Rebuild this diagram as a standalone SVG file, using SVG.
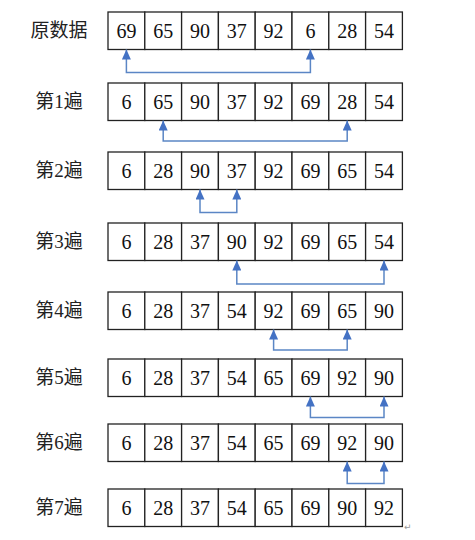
<svg xmlns="http://www.w3.org/2000/svg" width="475" height="540" viewBox="0 0 475 540">
<style>
.c{fill:#fff;stroke:#222;stroke-width:1.3}
.n{font-family:"Liberation Serif","Times New Roman",serif;font-size:20px;fill:#111;text-anchor:middle}
.l{font-family:"Liberation Serif","Noto Sans CJK SC",serif;font-size:19px;fill:#222;text-anchor:middle}
.a{fill:none;stroke:#5B86C5;stroke-width:1.5;marker-start:url(#ah);marker-end:url(#ah)}
</style>
<defs>
<marker id="ah" viewBox="0 0 10 9" refX="10" refY="4.5" markerWidth="10" markerHeight="9" markerUnits="userSpaceOnUse" orient="auto-start-reverse"><path d="M0,0 L10,4.5 L0,9 z" fill="#4472C4"/></marker>
</defs>
<rect width="475" height="540" fill="#fff"/>
<g id="row0">
<text class="l" x="59" y="37">原数据</text>
<rect class="c" x="108" y="12" width="36.8" height="37.5"/><rect class="c" x="144.8" y="12" width="36.8" height="37.5"/><rect class="c" x="181.6" y="12" width="36.8" height="37.5"/><rect class="c" x="218.4" y="12" width="36.8" height="37.5"/><rect class="c" x="255.2" y="12" width="36.8" height="37.5"/><rect class="c" x="292" y="12" width="36.8" height="37.5"/><rect class="c" x="328.8" y="12" width="36.8" height="37.5"/><rect class="c" x="365.6" y="12" width="36.8" height="37.5"/>
<text class="n" y="38"><tspan x="126.4">69</tspan><tspan x="163.2">65</tspan><tspan x="200">90</tspan><tspan x="236.8">37</tspan><tspan x="273.6">92</tspan><tspan x="310.4">6</tspan><tspan x="347.2">28</tspan><tspan x="384">54</tspan></text>
</g>
<g id="row1">
<text class="l" x="59" y="108">第1遍</text>
<rect class="c" x="108" y="83" width="36.8" height="37.5"/><rect class="c" x="144.8" y="83" width="36.8" height="37.5"/><rect class="c" x="181.6" y="83" width="36.8" height="37.5"/><rect class="c" x="218.4" y="83" width="36.8" height="37.5"/><rect class="c" x="255.2" y="83" width="36.8" height="37.5"/><rect class="c" x="292" y="83" width="36.8" height="37.5"/><rect class="c" x="328.8" y="83" width="36.8" height="37.5"/><rect class="c" x="365.6" y="83" width="36.8" height="37.5"/>
<text class="n" y="109"><tspan x="126.4">6</tspan><tspan x="163.2">65</tspan><tspan x="200">90</tspan><tspan x="236.8">37</tspan><tspan x="273.6">92</tspan><tspan x="310.4">69</tspan><tspan x="347.2">28</tspan><tspan x="384">54</tspan></text>
</g>
<g id="row2">
<text class="l" x="59" y="177">第2遍</text>
<rect class="c" x="108" y="152" width="36.8" height="37.5"/><rect class="c" x="144.8" y="152" width="36.8" height="37.5"/><rect class="c" x="181.6" y="152" width="36.8" height="37.5"/><rect class="c" x="218.4" y="152" width="36.8" height="37.5"/><rect class="c" x="255.2" y="152" width="36.8" height="37.5"/><rect class="c" x="292" y="152" width="36.8" height="37.5"/><rect class="c" x="328.8" y="152" width="36.8" height="37.5"/><rect class="c" x="365.6" y="152" width="36.8" height="37.5"/>
<text class="n" y="178"><tspan x="126.4">6</tspan><tspan x="163.2">28</tspan><tspan x="200">90</tspan><tspan x="236.8">37</tspan><tspan x="273.6">92</tspan><tspan x="310.4">69</tspan><tspan x="347.2">65</tspan><tspan x="384">54</tspan></text>
</g>
<g id="row3">
<text class="l" x="59" y="248">第3遍</text>
<rect class="c" x="108" y="223" width="36.8" height="37.5"/><rect class="c" x="144.8" y="223" width="36.8" height="37.5"/><rect class="c" x="181.6" y="223" width="36.8" height="37.5"/><rect class="c" x="218.4" y="223" width="36.8" height="37.5"/><rect class="c" x="255.2" y="223" width="36.8" height="37.5"/><rect class="c" x="292" y="223" width="36.8" height="37.5"/><rect class="c" x="328.8" y="223" width="36.8" height="37.5"/><rect class="c" x="365.6" y="223" width="36.8" height="37.5"/>
<text class="n" y="249"><tspan x="126.4">6</tspan><tspan x="163.2">28</tspan><tspan x="200">37</tspan><tspan x="236.8">90</tspan><tspan x="273.6">92</tspan><tspan x="310.4">69</tspan><tspan x="347.2">65</tspan><tspan x="384">54</tspan></text>
</g>
<g id="row4">
<text class="l" x="59" y="317">第4遍</text>
<rect class="c" x="108" y="292" width="36.8" height="37.5"/><rect class="c" x="144.8" y="292" width="36.8" height="37.5"/><rect class="c" x="181.6" y="292" width="36.8" height="37.5"/><rect class="c" x="218.4" y="292" width="36.8" height="37.5"/><rect class="c" x="255.2" y="292" width="36.8" height="37.5"/><rect class="c" x="292" y="292" width="36.8" height="37.5"/><rect class="c" x="328.8" y="292" width="36.8" height="37.5"/><rect class="c" x="365.6" y="292" width="36.8" height="37.5"/>
<text class="n" y="318"><tspan x="126.4">6</tspan><tspan x="163.2">28</tspan><tspan x="200">37</tspan><tspan x="236.8">54</tspan><tspan x="273.6">92</tspan><tspan x="310.4">69</tspan><tspan x="347.2">65</tspan><tspan x="384">90</tspan></text>
</g>
<g id="row5">
<text class="l" x="59" y="384">第5遍</text>
<rect class="c" x="108" y="359" width="36.8" height="37.5"/><rect class="c" x="144.8" y="359" width="36.8" height="37.5"/><rect class="c" x="181.6" y="359" width="36.8" height="37.5"/><rect class="c" x="218.4" y="359" width="36.8" height="37.5"/><rect class="c" x="255.2" y="359" width="36.8" height="37.5"/><rect class="c" x="292" y="359" width="36.8" height="37.5"/><rect class="c" x="328.8" y="359" width="36.8" height="37.5"/><rect class="c" x="365.6" y="359" width="36.8" height="37.5"/>
<text class="n" y="385"><tspan x="126.4">6</tspan><tspan x="163.2">28</tspan><tspan x="200">37</tspan><tspan x="236.8">54</tspan><tspan x="273.6">65</tspan><tspan x="310.4">69</tspan><tspan x="347.2">92</tspan><tspan x="384">90</tspan></text>
</g>
<g id="row6">
<text class="l" x="59" y="449">第6遍</text>
<rect class="c" x="108" y="424" width="36.8" height="37.5"/><rect class="c" x="144.8" y="424" width="36.8" height="37.5"/><rect class="c" x="181.6" y="424" width="36.8" height="37.5"/><rect class="c" x="218.4" y="424" width="36.8" height="37.5"/><rect class="c" x="255.2" y="424" width="36.8" height="37.5"/><rect class="c" x="292" y="424" width="36.8" height="37.5"/><rect class="c" x="328.8" y="424" width="36.8" height="37.5"/><rect class="c" x="365.6" y="424" width="36.8" height="37.5"/>
<text class="n" y="450"><tspan x="126.4">6</tspan><tspan x="163.2">28</tspan><tspan x="200">37</tspan><tspan x="236.8">54</tspan><tspan x="273.6">65</tspan><tspan x="310.4">69</tspan><tspan x="347.2">92</tspan><tspan x="384">90</tspan></text>
</g>
<g id="row7">
<text class="l" x="59" y="514">第7遍</text>
<rect class="c" x="108" y="489" width="36.8" height="37.5"/><rect class="c" x="144.8" y="489" width="36.8" height="37.5"/><rect class="c" x="181.6" y="489" width="36.8" height="37.5"/><rect class="c" x="218.4" y="489" width="36.8" height="37.5"/><rect class="c" x="255.2" y="489" width="36.8" height="37.5"/><rect class="c" x="292" y="489" width="36.8" height="37.5"/><rect class="c" x="328.8" y="489" width="36.8" height="37.5"/><rect class="c" x="365.6" y="489" width="36.8" height="37.5"/>
<text class="n" y="515"><tspan x="126.4">6</tspan><tspan x="163.2">28</tspan><tspan x="200">37</tspan><tspan x="236.8">54</tspan><tspan x="273.6">65</tspan><tspan x="310.4">69</tspan><tspan x="347.2">90</tspan><tspan x="384">92</tspan></text>
<text x="404" y="530" font-family="'DejaVu Sans',sans-serif" font-size="9" fill="#999">↵</text>
</g>
<g id="connectors">
<path class="a" d="M126.4,49.5 V72.5 H310.4 V49.5"/>
<path class="a" d="M163.2,120.5 V141 H347.2 V120.5"/>
<path class="a" d="M200,189.5 V212.5 H236.8 V189.5"/>
<path class="a" d="M236.8,260.5 V284 H384 V260.5"/>
<path class="a" d="M273.6,329.5 V350 H347.2 V329.5"/>
<path class="a" d="M310.4,396.5 V417.5 H384 V396.5"/>
<path class="a" d="M347.2,461.5 V483.5 H384 V461.5"/>
</g>
</svg>
